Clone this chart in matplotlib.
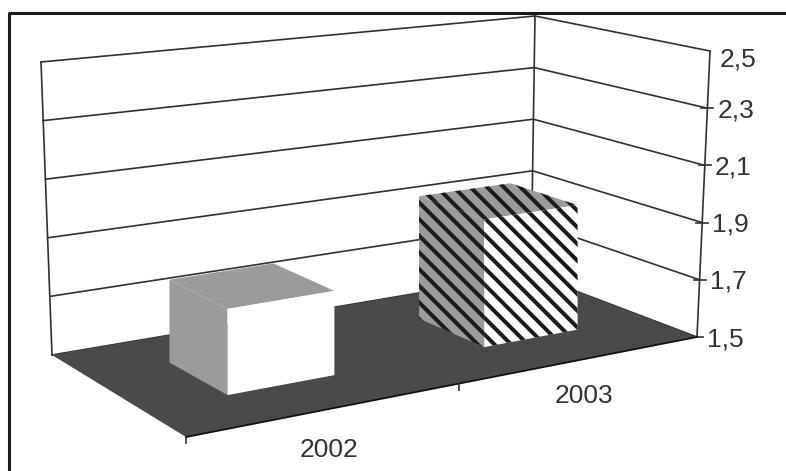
import matplotlib
matplotlib.use("Agg")
import matplotlib.pyplot as plt
import numpy as np

plt.rcParams["font.family"] = ["Liberation Sans", "DejaVu Sans"]
plt.rcParams["hatch.linewidth"] = 2.9

years = ["2002", "2003"]
values = [1.78, 1.94]
y_ticks = [1.5, 1.7, 1.9, 2.1, 2.3, 2.5]
y_labels = ["1,5", "1,7", "1,9", "2,1", "2,3", "2,5"]

# corners of the 3D box in pixels: front-left, front-right, back-right, back-left
floor_quad = [(186, 437), (697, 337), (531, 274), (52, 355)]
top_quad = [(167, 116), (710, 51), (535, 16), (41, 62)]


def homography(quad):
    src = [(0, 0), (1, 0), (1, 1), (0, 1)]
    a, b = [], []
    for (u, v), (x, y) in zip(src, quad):
        a.append([u, v, 1, 0, 0, 0, -u * x, -v * x])
        a.append([0, 0, 0, u, v, 1, -u * y, -v * y])
        b += [x, y]
    return np.append(np.linalg.solve(a, b), 1).reshape(3, 3)


H_floor = homography(floor_quad)
H_top = homography(top_quad)


def apply(H, u, v):
    p = H @ [u, v, 1]
    return p[:2] / p[2]


def proj(cat, depth, val):
    # cat runs 0..2 along the front edge, depth 0..1 to the back wall
    t = (val - 1.5) / (2.5 - 1.5)
    return (1 - t) * apply(H_floor, cat / 2, depth) + t * apply(H_top, cat / 2, depth)


def bar_pt(cat, depth, val):
    # bar edges stay upright, so x comes from the floor point
    return proj(cat, depth, 1.5)[0], proj(cat, depth, val)[1]


fig = plt.figure(figsize=(7.86, 4.71), dpi=100)
ax = fig.add_axes([0, 0, 1, 1])
ax.set_xlim(0, 786)
ax.set_ylim(471, 0)
ax.axis("off")

# outer frame
ax.plot([8.5, 8.5, 786], [471, 12.5, 12.5], color="#1a1a1a", lw=2.2, solid_capstyle="butt")

line_col = "#303032"
for val in y_ticks:
    pts = np.array([proj(0, 1, val), proj(2, 1, val), proj(2, 0, val)])
    ax.plot(pts[:, 0], pts[:, 1], color=line_col, lw=1.2, zorder=2)
for cat, dep in [(0, 1), (2, 1), (2, 0)]:
    pts = np.array([proj(cat, dep, 1.5), proj(cat, dep, 2.5)])
    ax.plot(pts[:, 0], pts[:, 1], color=line_col, lw=1.2, zorder=2)

# value ticks and labels on the right wall
for val, lab in zip(y_ticks, y_labels):
    x, y = proj(2, 0, val)
    if val < 2.5:
        ax.plot([x - 6, x + 6], [y, y], color=line_col, lw=1.2, zorder=2)
    ax.text(x + 10, y + (9 if val == 2.5 else 2), lab, fontsize=19, color="#333335",
            ha="left", va="center")

# floor
ax.fill(*zip(*floor_quad), color="#4a4a4c", lw=0, zorder=3)
edge = np.array([proj(0, 0, 1.5), proj(2, 0, 1.5)])
ax.plot(edge[:, 0], edge[:, 1], color="#111111", lw=1.3, zorder=3)

# category ticks and labels
for cat in [0, 1]:
    x, y = proj(cat, 0, 1.5)
    ax.plot([x, x], [y, y + 6], color=line_col, lw=1.2, zorder=3)
ax.text(329, 450, years[0], fontsize=19, color="#333335", ha="center", va="center")
ax.text(584, 396, years[1], fontsize=19, color="#333335", ha="center", va="center")

# bars
bar_cats = [0.5, 1.5]
half_w = 0.2
dep0, dep1 = 0.295, 0.71
hatches = [None, "\\\\"]
for c, val, hatch in zip(bar_cats, values, hatches):
    c0, c1 = c - half_w, c + half_w
    side = [bar_pt(c0, dep0, 1.5), bar_pt(c0, dep1, 1.5), bar_pt(c0, dep1, val), bar_pt(c0, dep0, val)]
    top = [bar_pt(c0, dep0, val), bar_pt(c1, dep0, val), bar_pt(c1, dep1, val), bar_pt(c0, dep1, val)]
    front = [bar_pt(c0, dep0, 1.5), bar_pt(c1, dep0, 1.5), bar_pt(c1, dep0, val), bar_pt(c0, dep0, val)]
    for poly, col in [(side, "#9b9b9e"), (top, "#9b9b9e"), (front, "#ffffff")]:
        ax.add_patch(plt.Polygon(poly, closed=True, facecolor=col, edgecolor="#1c1c1e",
                                 hatch=hatch, lw=0, zorder=4))

fig.savefig("out.png", dpi=100)
